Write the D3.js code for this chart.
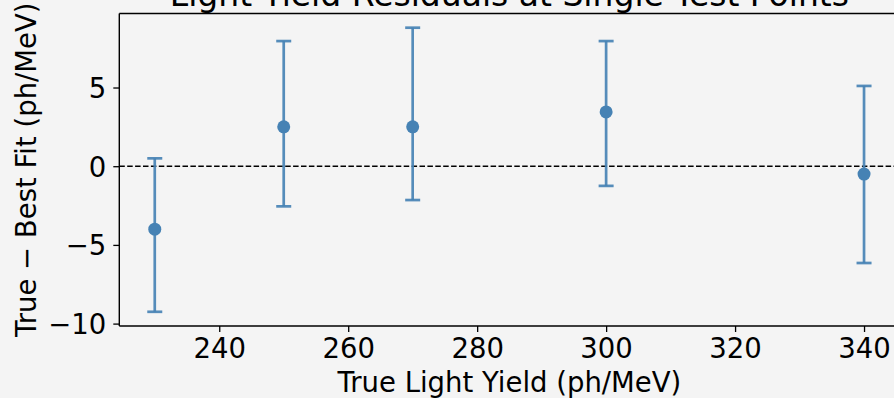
<!DOCTYPE html>
<html>
<head>
<meta charset="utf-8">
<script src="https://cdn.jsdelivr.net/npm/d3@7/dist/d3.min.js"></script>
<style>
  html, body { margin: 0; padding: 0; background: #f4f4f4; }
  svg { display: block; }
  text { font-family: "DejaVu Sans", sans-serif; fill: #000; }
</style>
</head>
<body>
<svg id="chart" width="894" height="398"></svg>
<script>
// Test-point light yields and the residual (true − best fit) at each one
const trueYield = [230, 250, 270, 300, 340];
const residual  = [-4.0, 2.5, 2.5, 3.45, -0.5];
const lowerEdge = [-9.25, -2.55, -2.15, -1.25, -6.15];
const upperEdge = [0.5, 7.95, 8.8, 7.95, 5.1];

const xTicks = [240, 260, 280, 300, 320, 340];
const yTicks = [-10, -5, 0, 5];

const titleText  = "Light Yield Residuals at Single Test Points";
const xLabelText = "True Light Yield (ph/MeV)";
const yLabelText = "True \u2212 Best Fit (ph/MeV)";

const W = 894, H = 398;
const plot = { left: 119.3, right: 899.5, top: 13.5, bottom: 326 };
const color = "#4682b4";
const labelSize = 27.5, titleSize = 33;

const svg = d3.select("#chart");
svg.append("rect").attr("width", W).attr("height", H).attr("fill", "#f4f4f4");

// Autoscale with a 5% margin on each side
function padded(lo, hi) {
  const m = (hi - lo) * 0.05;
  return [lo - m, hi + m];
}
const x = d3.scaleLinear()
  .domain(padded(d3.min(trueYield), d3.max(trueYield)))
  .range([plot.left, plot.right]);
const y = d3.scaleLinear()
  .domain(padded(d3.min(lowerEdge), d3.max(upperEdge)))
  .range([plot.bottom, plot.top]);

const points = trueYield.map((v, i) => ({
  x: v, y: residual[i], lo: lowerEdge[i], hi: upperEdge[i]
}));

// Zero reference line
svg.append("line")
  .attr("x1", plot.left).attr("x2", plot.right)
  .attr("y1", y(0)).attr("y2", y(0))
  .attr("stroke", "#000").attr("stroke-width", 1.4)
  .attr("stroke-dasharray", "5.5,2.4");

// Error bars with caps
const eb = svg.append("g").attr("stroke", color).attr("stroke-width", 2.7).attr("stroke-opacity", 0.92);
eb.selectAll("line.v").data(points).join("line")
  .attr("class", "v")
  .attr("x1", d => x(d.x)).attr("x2", d => x(d.x))
  .attr("y1", d => y(d.lo)).attr("y2", d => y(d.hi));
eb.selectAll("line.capHi").data(points).join("line")
  .attr("class", "capHi")
  .attr("x1", d => x(d.x) - 7.5).attr("x2", d => x(d.x) + 7.5)
  .attr("y1", d => y(d.hi)).attr("y2", d => y(d.hi));
eb.selectAll("line.capLo").data(points).join("line")
  .attr("class", "capLo")
  .attr("x1", d => x(d.x) - 7.5).attr("x2", d => x(d.x) + 7.5)
  .attr("y1", d => y(d.lo)).attr("y2", d => y(d.lo));

// Markers
svg.append("g").selectAll("circle").data(points).join("circle")
  .attr("cx", d => x(d.x)).attr("cy", d => y(d.y))
  .attr("r", 6.5).attr("fill", color);

// Axes
const fmt = d => d < 0 ? "\u2212" + Math.abs(d) : String(d);
const xAxis = svg.append("g")
  .attr("transform", `translate(0,${plot.bottom})`)
  .call(d3.axisBottom(x).tickValues(xTicks).tickFormat(fmt).tickSize(6).tickPadding(5));
const yAxis = svg.append("g")
  .attr("transform", `translate(${plot.left},0)`)
  .call(d3.axisLeft(y).tickValues(yTicks).tickFormat(fmt).tickSize(6).tickPadding(7));

[xAxis, yAxis].forEach(g => {
  g.select(".domain").remove();
  g.selectAll(".tick line").attr("stroke", "#000").attr("stroke-width", 1.3);
  g.selectAll(".tick text").attr("font-size", labelSize).attr("fill", "#000")
    .style("font-family", "'DejaVu Sans', sans-serif");
});
yAxis.selectAll(".tick text").attr("dy", "0.36em");
xAxis.selectAll(".tick text").attr("dy", "0.75em");

// Spines (left, bottom, top)
const spines = svg.append("g").attr("stroke", "#000").attr("stroke-width", 1.4).attr("fill", "none");
spines.append("line").attr("x1", plot.left).attr("x2", plot.left).attr("y1", plot.top).attr("y2", plot.bottom);
spines.append("line").attr("x1", plot.left).attr("x2", plot.right).attr("y1", plot.bottom).attr("y2", plot.bottom);
spines.append("line").attr("x1", plot.left).attr("x2", plot.right).attr("y1", plot.top).attr("y2", plot.top);

// Title and axis labels
const midX = (plot.left + plot.right) / 2;
svg.append("text")
  .attr("x", midX).attr("y", 6)
  .attr("text-anchor", "middle").attr("font-size", titleSize)
  .text(titleText);
svg.append("text")
  .attr("x", midX).attr("y", 392)
  .attr("text-anchor", "middle").attr("font-size", labelSize)
  .text(xLabelText);
svg.append("text")
  .attr("transform", `translate(36,${(plot.top + plot.bottom) / 2}) rotate(-90)`)
  .attr("text-anchor", "middle").attr("font-size", labelSize)
  .text(yLabelText);
</script>
</body>
</html>
